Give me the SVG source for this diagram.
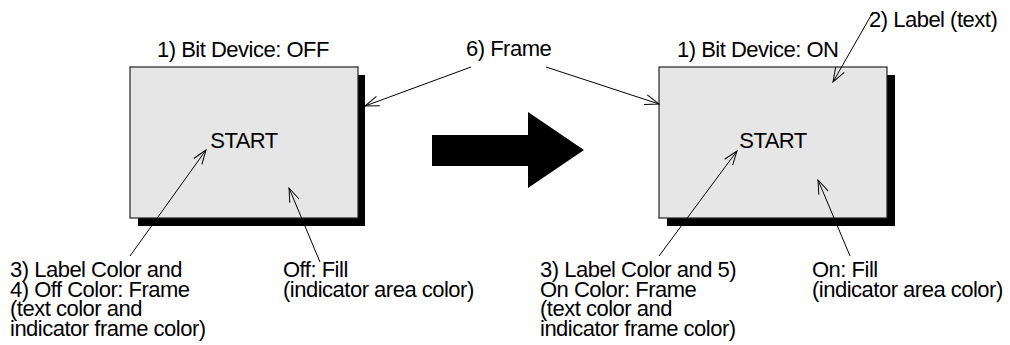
<svg xmlns="http://www.w3.org/2000/svg" width="1010" height="345" viewBox="0 0 1010 345">
<style>
text{font-family:"Liberation Sans",Arial,sans-serif;font-size:22px;letter-spacing:-0.5px;fill:#000}
.box{fill:#e6e6e6;stroke:#222;stroke-width:1.2}
.shadow{fill:#000}
.conn{stroke:#000;stroke-width:1;fill:none;marker-end:url(#ah)}
</style>
<defs>
<marker id="ah" markerUnits="userSpaceOnUse" markerWidth="16" markerHeight="12" refX="15" refY="6" orient="auto">
<path d="M1,1 L15,6 L1,11" fill="none" stroke="#000" stroke-width="1"/>
</marker>
</defs>
<g id="device-off">
<text x="157" y="57">1) Bit Device: OFF</text>
<rect class="shadow" x="138" y="75" width="227" height="151"/>
<rect class="box" x="130" y="67" width="228" height="151"/>
<text x="244" y="148" text-anchor="middle">START</text>
</g>
<g id="device-on">
<text x="677" y="57">1) Bit Device: ON</text>
<rect class="shadow" x="667" y="75" width="228" height="151"/>
<rect class="box" x="659" y="67" width="228" height="151"/>
<text x="773" y="148" text-anchor="middle">START</text>
</g>
<g id="transition-arrow">
<polygon points="432,135 528,135 528,112 584,150 528,188 528,166 432,166" fill="#000"/>
</g>
<g id="label-frame"><text x="466" y="56">6) Frame</text></g>
<g id="label-text"><text x="869" y="27">2) Label (text)</text></g>
<g id="label-off-color">
<text x="10" y="277">3) Label Color and</text>
<text x="10" y="296.5">4) Off Color: Frame</text>
<text x="10" y="316">(text color and</text>
<text x="10" y="335.5">indicator frame color)</text>
</g>
<g id="label-off-fill">
<text x="283" y="277">Off: Fill</text>
<text x="283" y="296.5">(indicator area color)</text>
</g>
<g id="label-on-color">
<text x="540" y="277">3) Label Color and 5)</text>
<text x="540" y="296.5">On Color: Frame</text>
<text x="540" y="316">(text color and</text>
<text x="540" y="335.5">indicator frame color)</text>
</g>
<g id="label-on-fill">
<text x="812" y="277">On: Fill</text>
<text x="812" y="296.5">(indicator area color)</text>
</g>
<g id="connectors">
<line class="conn" x1="471" y1="67" x2="365" y2="106"/>
<line class="conn" x1="546" y1="67" x2="659" y2="104"/>
<line class="conn" x1="873" y1="12" x2="833" y2="82"/>
<line class="conn" x1="130" y1="256" x2="206" y2="150"/>
<line class="conn" x1="320" y1="262" x2="289" y2="188"/>
<line class="conn" x1="659" y1="256" x2="737" y2="151"/>
<line class="conn" x1="850" y1="256" x2="818" y2="180"/>
</g>
</svg>
